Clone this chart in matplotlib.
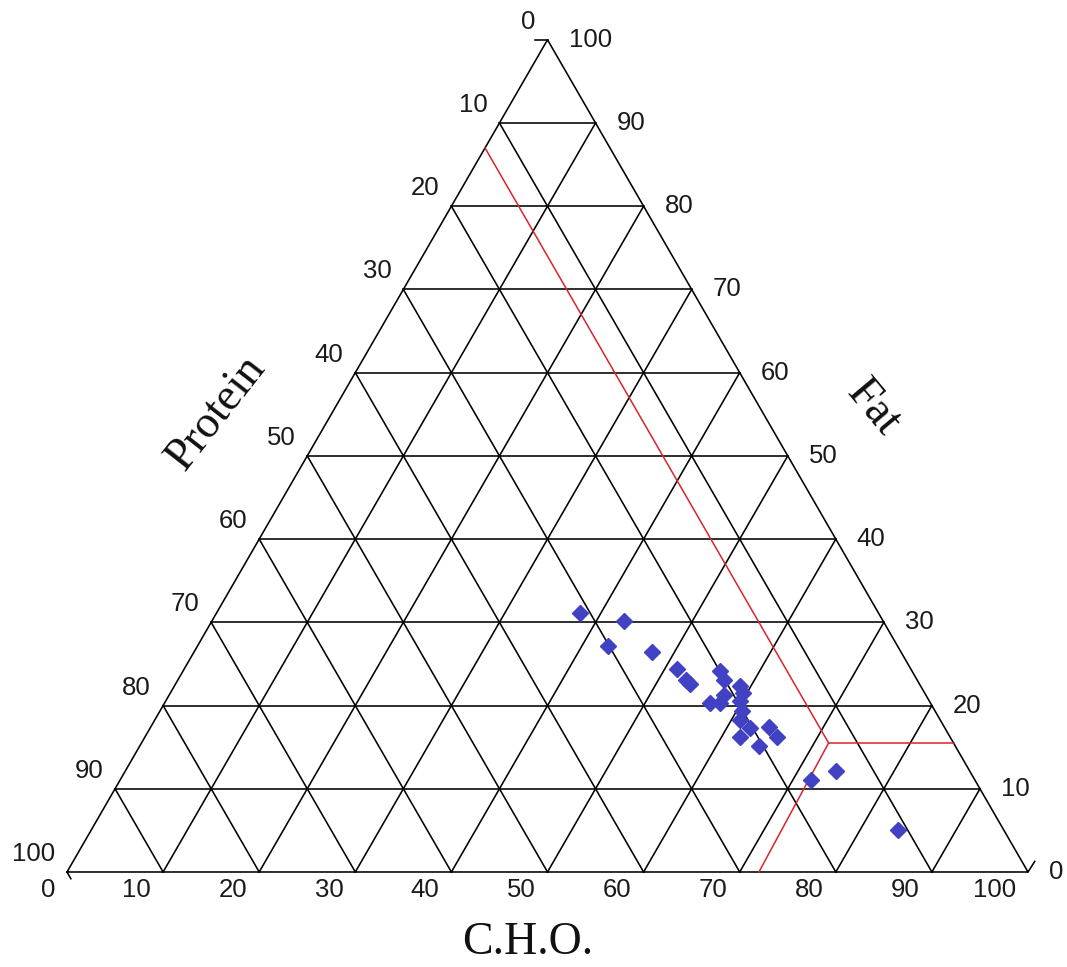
import numpy as np
import matplotlib.pyplot as plt

# composition of each sample, % of energy (C.H.O. / Fat / Protein)
cho = [37.8, 42.9, 42.7, 47.7, 51.3, 52.9, 53.5, 55.9, 56.8, 58.9, 59.6, 57.7,
       56.8, 57.8, 59.8, 60.6, 60.9, 62.4, 64.4, 65.8, 61.9, 64.5, 74.0, 71.9, 83.9]
fat = [31.1, 30.1, 27.2, 26.4, 24.4, 23.1, 22.6, 24.1, 23.1, 22.3, 21.5, 21.3,
       20.3, 20.3, 20.5, 19.3, 18.3, 17.3, 17.4, 16.2, 16.2, 15.1, 12.1, 11.1, 5.1]
protein = [31.1, 27.0, 30.1, 25.9, 24.3, 24.0, 23.9, 20.0, 20.1, 18.8, 18.9, 21.0,
           22.9, 21.9, 19.7, 20.1, 20.8, 20.3, 18.2, 18.0, 21.9, 20.4, 13.9, 17.0, 11.0]

# red region boundaries (C.H.O., Fat, Protein)
upper_cho, upper_fat, upper_protein = [0.0, 71.5], [87.0, 15.5], [13.0, 13.0]
flat_cho, flat_fat, flat_protein = [71.5, 84.5], [15.5, 15.5], [13.0, 0.0]
lower_cho, lower_fat, lower_protein = [71.5, 72.0], [15.5, 0.0], [13.0, 28.0]

ticks = list(range(0, 101, 10))

H = np.sqrt(3) / 2


def to_xy(c, f):
    c = np.asarray(c, float)
    f = np.asarray(f, float)
    return c + f / 2, f * H


fig = plt.figure(figsize=(10.67, 9.67), dpi=100)
ax = fig.add_axes([0, 0, 1, 1])
ax.set_xlim(-6.972, 104.058)
ax.set_ylim(-9.886, 90.739)
ax.axis('off')

lw = 1.15
# outer triangle
x, y = to_xy([0, 100, 0, 0], [0, 0, 100, 0])
ax.plot(x, y, color='black', lw=lw, solid_joinstyle='miter')

# grid
for k in ticks[1:-1]:
    # constant fat
    x, y = to_xy([0, 100 - k], [k, k])
    ax.plot(x, y, color='black', lw=lw)
    # constant C.H.O.
    x, y = to_xy([k, k], [0, 100 - k])
    ax.plot(x, y, color='black', lw=lw)
    # constant protein
    x, y = to_xy([100 - k, 0], [0, 100 - k])
    ax.plot(x, y, color='black', lw=lw)

# small end ticks
ax.plot([50 - 1.25, 50], [100 * H, 100 * H], color='black', lw=lw)
ax.plot([0, 0.4], [0, -0.7], color='black', lw=lw)
ax.plot([100, 100.7], [0, 1.1], color='black', lw=lw)

tick_font = dict(family=['Liberation Sans', 'DejaVu Sans'], fontsize=18.5, color='#1a1a1a')
for k in ticks:
    # C.H.O. along the bottom
    x, y = to_xy(k, 0)
    ax.annotate(str(k), (x, y), xytext=(-12, -6), textcoords='offset pixels',
                ha='right', va='top', **tick_font)
    # fat along the right side
    x, y = to_xy(100 - k, k)
    ax.annotate(str(k), (x, y), xytext=(21, 0), textcoords='offset pixels',
                ha='left', va='center', **tick_font)
    # protein along the left side
    x, y = to_xy(0, 100 - k)
    ax.annotate(str(k), (x, y), xytext=(-12, 18), textcoords='offset pixels',
                ha='right', va='center', **tick_font)

red = '#d8242c'
for cs, fs in [(upper_cho, upper_fat), (flat_cho, flat_fat), (lower_cho, lower_fat)]:
    x, y = to_xy(cs, fs)
    ax.plot(x, y, color=red, lw=1.1)

x, y = to_xy(cho, fat)
ax.plot(x, y, 'D', color='#4141c4', ms=8.5, mec='#4141c4', ls='none')

title_font = dict(family=['Liberation Serif', 'DejaVu Serif'], fontsize=33, color='#111111')
ax.text(47.9, -7.4, 'C.H.O.', ha='center', va='center', **title_font)
ax.text(15.6, 47.8, 'Protein', ha='center', va='center', rotation=52, **title_font)
ax.text(83.9, 48.3, 'Fat', ha='center', va='center', rotation=-50, **title_font)

fig.savefig('out.png', dpi=100)
